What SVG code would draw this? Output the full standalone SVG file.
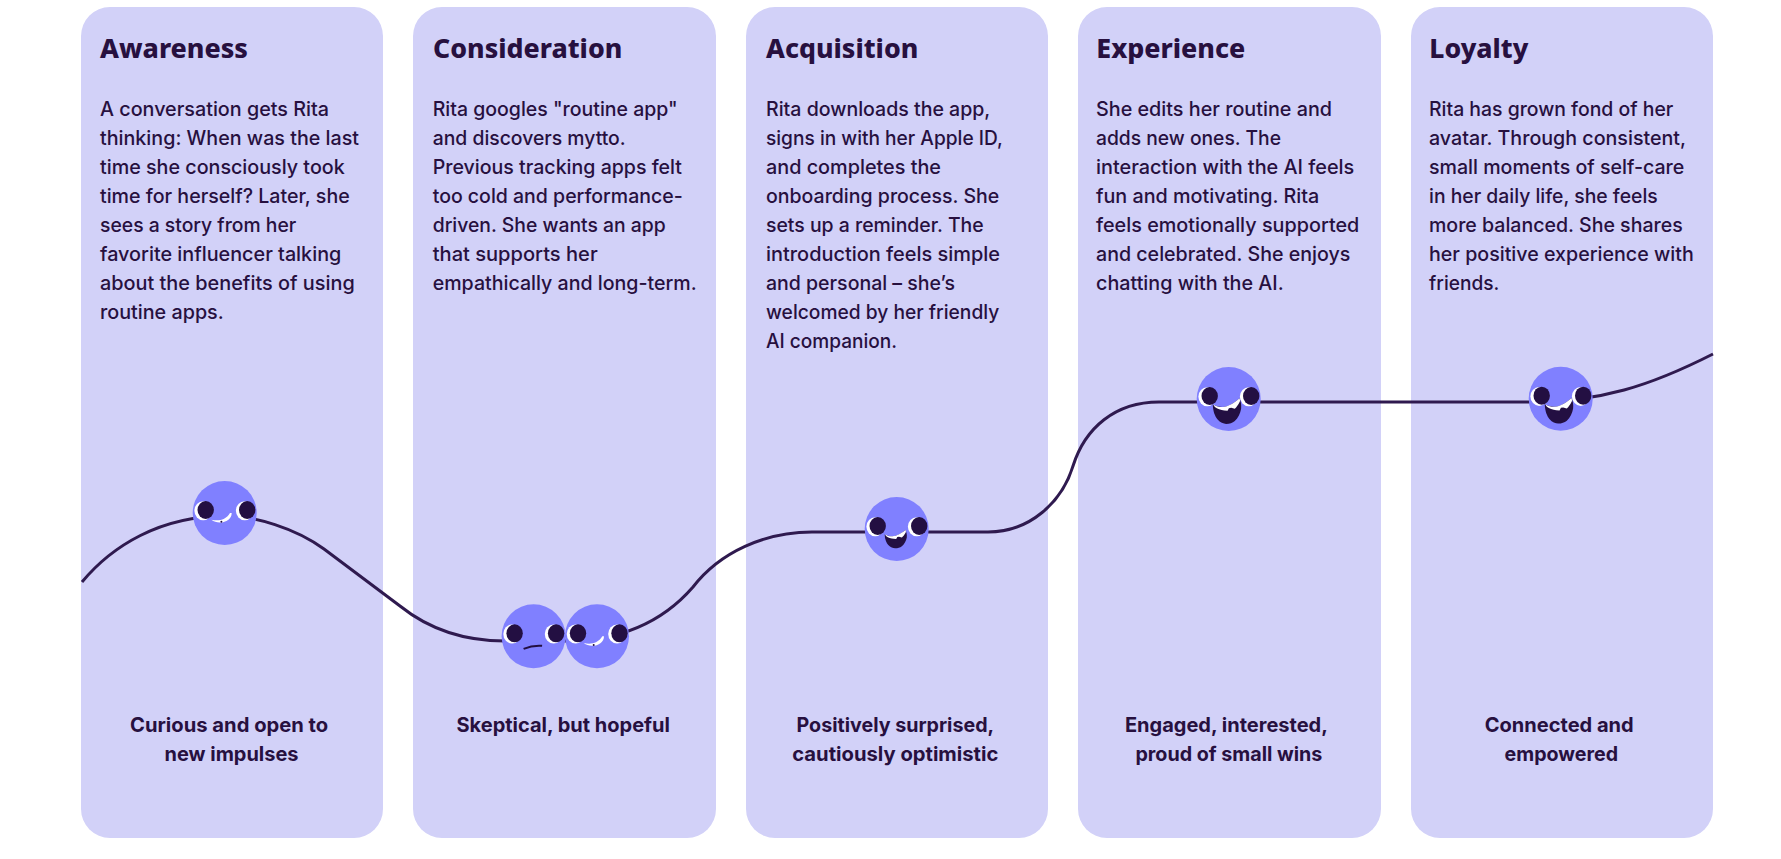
<svg xmlns="http://www.w3.org/2000/svg" width="1781" height="859" viewBox="0 0 1781 859">
<style>
.card{fill:#D2D1F8}
text{fill:#27103F;font-family:"Inter","Liberation Sans",sans-serif}
.h{font-family:"Noto Sans","Liberation Sans",sans-serif;font-size:27px;font-weight:800}
.b{font-size:20px;font-weight:500}
.l{font-size:20px;font-weight:700}
.line{fill:none;stroke:#2F1A4F;stroke-width:3}
.head{fill:#8080FF}
.dark{fill:#230F42}
.white{fill:#fff}
</style>
<defs>
<g id="base">
<circle class="head" r="32"/>
<ellipse class="white" cx="-21.500" cy="-2.300" rx="8.800" ry="9.500"/>
<ellipse class="dark" cx="-19" cy="-3" rx="8.200" ry="9"/>
<ellipse class="white" cx="20" cy="-2.300" rx="8.800" ry="9.500"/>
<ellipse class="dark" cx="22.500" cy="-3" rx="8.200" ry="9"/>
</g>
<g id="small-smile">
<path class="white" d="M-13.300 6.700C-9 7.800-4 7.500-1 6C1.500 4.500 4 2.500 5.300 0L7 0C7 3 5.500 5.500 3.700 6.700C1 8.800-3 9.800-5 9.500C-8 9.300-11 8.500-13.300 6.700Z"/>
<circle class="dark" cx="-3.300" cy="8.700" r="1"/>
</g>
<g id="big-smile">
<path class="dark" d="M-14.700 5.300C-14.500 12-12.500 16.500-10.300 19.300C-7.500 22.500-4.500 23.700-2 23.700C1.500 23.700 4 22.800 6.300 21C9.500 18 11.500 14 12.300 9.300C12.700 5.500 12 2 10.700-.7C6 3.500 0 7.700-5.300 7.700C-9 7.700-12 6.500-14.700 5.300Z"/>
<path class="white" d="M-14.300 5.300C-11 7.200-8 7.900-5.300 7.700C0 7.500 6 3.500 10.700-.7C11.500 1 11.300 2 11 2.700C9.500 5.500 8 8 6.300 9.300L2.800 8.400L.7 8.700L-.6 11.300L-3.700 11C-7 10.800-10.500 9.500-12.700 7.700Z"/>
</g>
</defs>
<g id="card-awareness"><rect class="card" x="81" y="7" width="302" height="831" rx="29"/>
<text class="h" x="100" y="58" textLength="148" lengthAdjust="spacingAndGlyphs">Awareness</text>
<g class="b">
<text x="100" y="116" textLength="229" lengthAdjust="spacingAndGlyphs">A conversation gets Rita</text>
<text x="100" y="145" textLength="259" lengthAdjust="spacingAndGlyphs">thinking: When was the last</text>
<text x="100" y="174" textLength="244.7" lengthAdjust="spacingAndGlyphs">time she consciously took</text>
<text x="100" y="203" textLength="249.7" lengthAdjust="spacingAndGlyphs">time for herself? Later, she</text>
<text x="100" y="232" textLength="196.3" lengthAdjust="spacingAndGlyphs">sees a story from her</text>
<text x="100" y="261" textLength="241.3" lengthAdjust="spacingAndGlyphs">favorite influencer talking</text>
<text x="100" y="290" textLength="254.7" lengthAdjust="spacingAndGlyphs">about the benefits of using</text>
<text x="100" y="319" textLength="123.7" lengthAdjust="spacingAndGlyphs">routine apps.</text>
</g>
<g class="l">
<text x="130" y="732" textLength="198.2" lengthAdjust="spacingAndGlyphs">Curious and open to</text>
<text x="164.500" y="761" textLength="134" lengthAdjust="spacingAndGlyphs">new impulses</text>
</g></g>
<g id="card-consideration"><rect class="card" x="413" y="7" width="303" height="831" rx="29"/>
<text class="h" x="433" y="58" textLength="189.3" lengthAdjust="spacingAndGlyphs">Consideration</text>
<g class="b">
<text x="432.700" y="116" textLength="245" lengthAdjust="spacingAndGlyphs">Rita googles "routine app"</text>
<text x="432.700" y="145" textLength="193" lengthAdjust="spacingAndGlyphs">and discovers mytto.</text>
<text x="432.700" y="174" textLength="249.3" lengthAdjust="spacingAndGlyphs">Previous tracking apps felt</text>
<text x="432.700" y="203" textLength="250" lengthAdjust="spacingAndGlyphs">too cold and performance-</text>
<text x="432.700" y="232" textLength="233" lengthAdjust="spacingAndGlyphs">driven. She wants an app</text>
<text x="432.700" y="261" textLength="165" lengthAdjust="spacingAndGlyphs">that supports her</text>
<text x="432.700" y="290" textLength="264" lengthAdjust="spacingAndGlyphs">empathically and long-term.</text>
</g>
<g class="l">
<text x="456.500" y="732" textLength="213.4" lengthAdjust="spacingAndGlyphs">Skeptical, but hopeful</text>
</g></g>
<g id="card-acquisition"><rect class="card" x="746" y="7" width="302" height="831" rx="29"/>
<text class="h" x="766" y="58" textLength="152.3" lengthAdjust="spacingAndGlyphs">Acquisition</text>
<g class="b">
<text x="766" y="116" textLength="224.3" lengthAdjust="spacingAndGlyphs">Rita downloads the app,</text>
<text x="766" y="145" textLength="236.7" lengthAdjust="spacingAndGlyphs">signs in with her Apple ID,</text>
<text x="766" y="174" textLength="175" lengthAdjust="spacingAndGlyphs">and completes the</text>
<text x="766" y="203" textLength="233.3" lengthAdjust="spacingAndGlyphs">onboarding process. She</text>
<text x="766" y="232" textLength="217.7" lengthAdjust="spacingAndGlyphs">sets up a reminder. The</text>
<text x="766" y="261" textLength="234" lengthAdjust="spacingAndGlyphs">introduction feels simple</text>
<text x="766" y="290" textLength="189" lengthAdjust="spacingAndGlyphs">and personal – she’s</text>
<text x="766" y="319" textLength="233.3" lengthAdjust="spacingAndGlyphs">welcomed by her friendly</text>
<text x="766" y="348" textLength="131" lengthAdjust="spacingAndGlyphs">AI companion.</text>
</g>
<g class="l">
<text x="796.500" y="732" textLength="197.6" lengthAdjust="spacingAndGlyphs">Positively surprised,</text>
<text x="792.300" y="761" textLength="206" lengthAdjust="spacingAndGlyphs">cautiously optimistic</text>
</g></g>
<g id="card-experience"><rect class="card" x="1078" y="7" width="303" height="831" rx="29"/>
<text class="h" x="1096.300" y="58" textLength="149" lengthAdjust="spacingAndGlyphs">Experience</text>
<g class="b">
<text x="1096" y="116" textLength="236" lengthAdjust="spacingAndGlyphs">She edits her routine and</text>
<text x="1096" y="145" textLength="185" lengthAdjust="spacingAndGlyphs">adds new ones. The</text>
<text x="1096" y="174" textLength="258.3" lengthAdjust="spacingAndGlyphs">interaction with the AI feels</text>
<text x="1096" y="203" textLength="223.3" lengthAdjust="spacingAndGlyphs">fun and motivating. Rita</text>
<text x="1096" y="232" textLength="263.3" lengthAdjust="spacingAndGlyphs">feels emotionally supported</text>
<text x="1096" y="261" textLength="254.3" lengthAdjust="spacingAndGlyphs">and celebrated. She enjoys</text>
<text x="1096" y="290" textLength="187.7" lengthAdjust="spacingAndGlyphs">chatting with the AI.</text>
</g>
<g class="l">
<text x="1124.900" y="732" textLength="203" lengthAdjust="spacingAndGlyphs">Engaged, interested,</text>
<text x="1135.400" y="761" textLength="187" lengthAdjust="spacingAndGlyphs">proud of small wins</text>
</g></g>
<g id="card-loyalty"><rect class="card" x="1411" y="7" width="302" height="831" rx="29"/>
<text class="h" x="1429.300" y="58" textLength="99" lengthAdjust="spacingAndGlyphs">Loyalty</text>
<g class="b">
<text x="1429" y="116" textLength="244.3" lengthAdjust="spacingAndGlyphs">Rita has grown fond of her</text>
<text x="1429" y="145" textLength="257" lengthAdjust="spacingAndGlyphs">avatar. Through consistent,</text>
<text x="1429" y="174" textLength="255.3" lengthAdjust="spacingAndGlyphs">small moments of self-care</text>
<text x="1429" y="203" textLength="228.7" lengthAdjust="spacingAndGlyphs">in her daily life, she feels</text>
<text x="1429" y="232" textLength="253.7" lengthAdjust="spacingAndGlyphs">more balanced. She shares</text>
<text x="1429" y="261" textLength="264.7" lengthAdjust="spacingAndGlyphs">her positive experience with</text>
<text x="1429" y="290" textLength="70.3" lengthAdjust="spacingAndGlyphs">friends.</text>
</g>
<g class="l">
<text x="1484.700" y="732" textLength="149" lengthAdjust="spacingAndGlyphs">Connected and</text>
<text x="1504.600" y="761" textLength="113.5" lengthAdjust="spacingAndGlyphs">empowered</text>
</g></g>
<g id="connectors">
<path class="line" d="M82 582C112 546 160 516 225 516C255 516 295 528 324 549L400 606C430 630 465 641 505 641H565C615 641 660 625 693 587C720 552 765 532 812 532H988C1030 532 1062 502 1073 466C1085 428 1115 402 1159 402H1530C1600 402 1650 386 1713 354"/>
</g>
<g id="face-1" transform="translate(224.7 513)"><use href="#base"/><use href="#small-smile"/></g>
<g id="face-2" transform="translate(533.6 636.300)"><use href="#base"/>
<path d="M-10 12.500C-4 10 2 9 8.500 9.500" fill="none" stroke="#230F42" stroke-width="2"/></g>
<g id="face-3" transform="translate(597 636.300)"><use href="#base"/><use href="#small-smile"/></g>
<g id="face-4" transform="translate(896.7 529)"><use href="#base"/>
<g transform="scale(.82 .75) translate(0 2)"><use href="#big-smile"/></g></g>
<g id="face-5" transform="translate(1228.700 399)"><use href="#base"/><g transform="translate(-.5 0) scale(1.05)"><use href="#big-smile"/></g></g>
<g id="face-6" transform="translate(1560.700 398.700)"><use href="#base"/><g transform="translate(-.5 0) scale(1.05)"><use href="#big-smile"/></g></g>
</svg>
